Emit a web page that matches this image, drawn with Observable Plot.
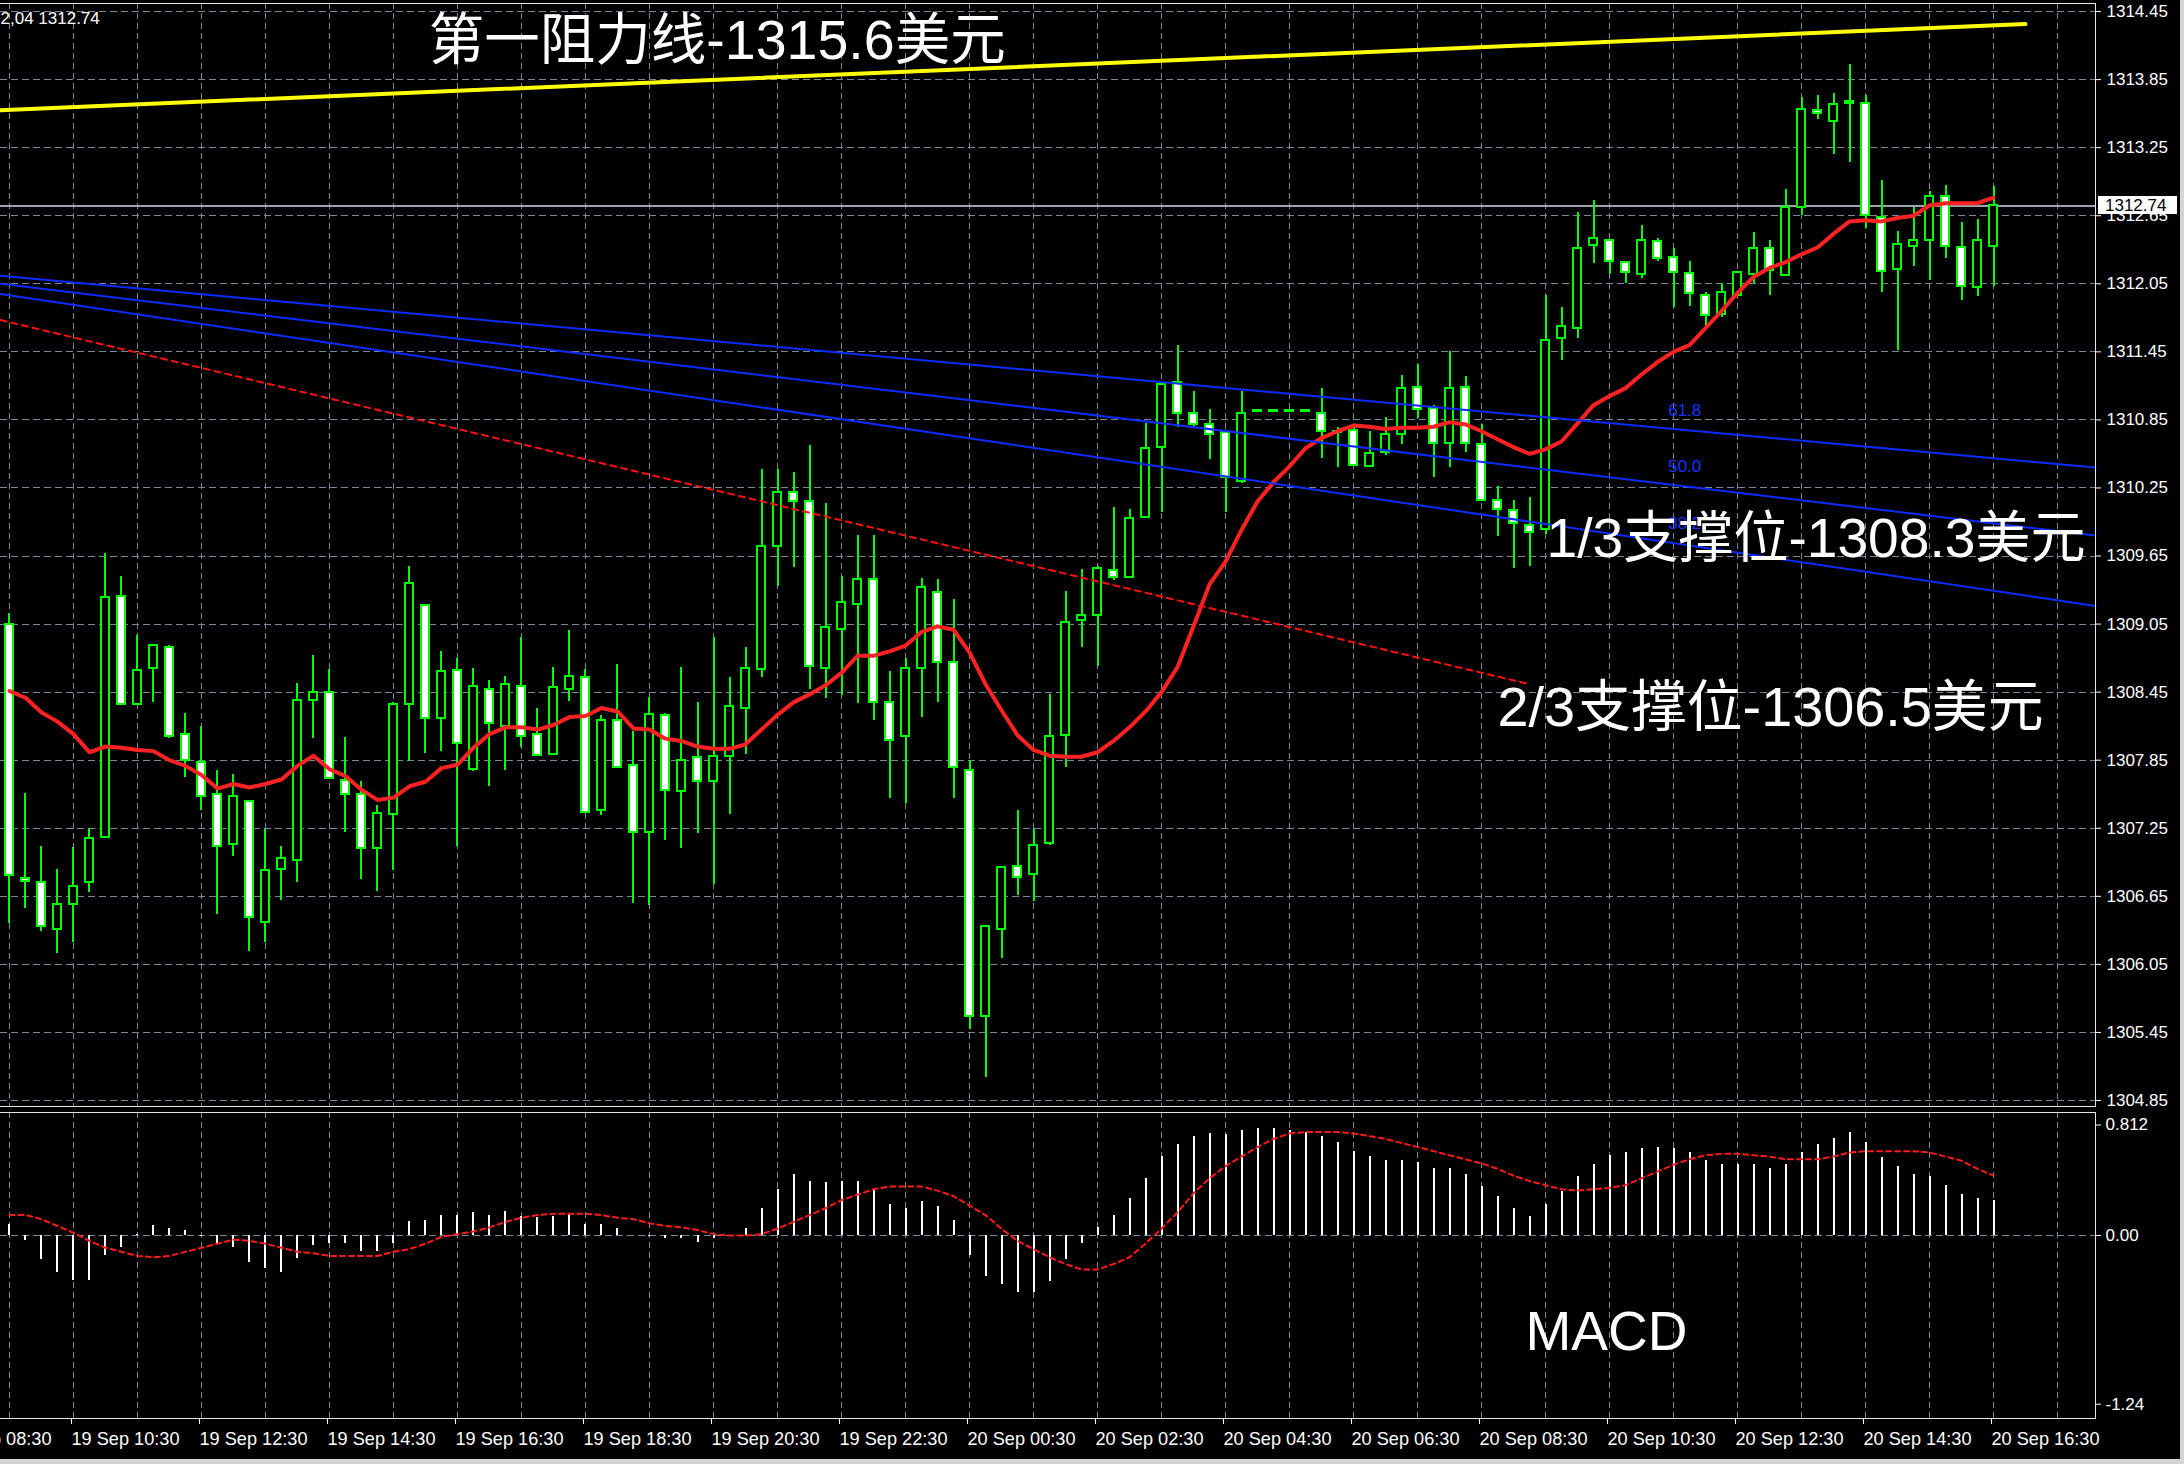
<!DOCTYPE html>
<html><head><meta charset="utf-8">
<script src="https://cdn.jsdelivr.net/npm/d3@7"></script>
<script src="https://cdn.jsdelivr.net/npm/@observablehq/plot@0.6"></script>
<style>
html,body{margin:0;padding:0;background:#d4d4d4;}
#wrap{width:2184px;height:1464px;background:#d4d4d4;position:relative;overflow:hidden}
#chart{position:absolute;left:0;top:0;width:2180px;height:1459px;background:#000;overflow:hidden}
#chart svg{display:block}
</style></head><body><div id="wrap"><div id="chart"></div></div>
<script>
// ---------- data ----------
const startTime = "2018-09-19T09:30:00Z";   // first M15 bar
const barMinutes = 15;
const xStart = "2018-09-19T09:21:34Z";
const xEnd = "2018-09-20T18:05:37Z";

const open = [
1309.05,1306.81,1306.77,1306.36,1306.58,1306.77,1307.17,1309.29,1308.34,1308.66,
1308.84,1308.08,1307.83,1307.55,1307.11,1307.49,1306.42,1306.89,1306.97,1308.38,
1308.45,1307.67,1307.55,1307.07,1307.37,1308.34,1309.21,1308.22,1308.64,1307.77,
1308.47,1308.15,1308.50,1308.08,1307.90,1308.47,1308.58,1307.41,1308.20,1307.80,
1307.21,1308.24,1307.57,1307.87,1307.66,1307.88,1308.31,1308.65,1309.73,1310.21,
1310.13,1308.66,1309.00,1309.22,1309.44,1308.36,1308.06,1308.66,1309.33,1308.71,
1307.76,1305.59,1306.36,1306.91,1306.84,1307.12,1308.07,1309.08,1309.13,1309.52,
1309.46,1309.99,1310.61,1311.18,1310.91,1310.81,1310.74,1310.31,1310.92,1310.92,
1310.92,1310.92,1310.91,1310.74,1310.76,1310.44,1310.56,1310.72,1311.14,1310.95,
1310.64,1311.14,1310.63,1310.14,1310.05,1309.92,1309.88,1311.57,1311.66,1312.39,
1312.43,1312.24,1312.13,1312.42,1312.28,1312.14,1311.95,1311.78,1311.95,1312.13,
1312.36,1312.12,1312.72,1313.58,1313.48,1313.66,1313.64,1312.63,1312.18,1312.38,
1312.43,1312.82,1312.37,1312.02,1312.38];
const high = [
1309.14,1307.56,1307.09,1306.89,1307.08,1307.25,1309.67,1309.47,1308.95,1308.86,
1308.86,1308.26,1308.15,1307.76,1307.72,1307.49,1307.24,1307.09,1308.53,1308.77,
1308.65,1308.05,1307.66,1307.45,1308.36,1309.56,1309.21,1308.81,1308.75,1308.66,
1308.55,1308.59,1308.93,1308.31,1308.67,1308.99,1308.65,1308.24,1308.69,1308.10,
1308.40,1308.26,1308.67,1308.36,1308.93,1308.58,1308.84,1310.41,1310.41,1310.39,
1310.62,1310.11,1309.47,1309.83,1309.83,1308.63,1308.75,1309.45,1309.44,1309.27,
1307.85,1306.38,1306.90,1307.41,1307.24,1308.43,1309.34,1309.53,1309.56,1310.08,
1310.06,1310.82,1311.16,1311.51,1311.10,1310.94,1310.76,1311.10,1310.93,1310.93,
1310.93,1310.93,1311.13,1310.78,1310.81,1310.75,1310.87,1311.24,1311.34,1310.98,
1311.45,1311.23,1310.81,1310.26,1310.14,1310.17,1311.95,1311.84,1312.68,1312.78,
1312.43,1312.24,1312.56,1312.45,1312.36,1312.25,1311.97,1312.05,1312.16,1312.50,
1312.43,1312.88,1313.69,1313.71,1313.73,1313.98,1313.71,1312.96,1312.51,1312.72,
1312.86,1312.92,1312.59,1312.62,1312.91];
const low = [
1306.41,1306.54,1306.34,1306.15,1306.24,1306.68,1307.16,1308.33,1308.34,1308.36,
1308.04,1307.70,1307.41,1306.49,1307.00,1306.16,1306.24,1306.61,1306.77,1308.04,
1307.68,1307.21,1306.80,1306.69,1306.88,1307.84,1307.91,1307.93,1307.09,1307.75,
1307.62,1307.76,1307.96,1307.89,1307.90,1308.37,1307.39,1307.36,1307.79,1306.59,
1306.57,1307.14,1307.07,1307.20,1306.75,1307.37,1307.90,1308.58,1309.38,1309.55,
1308.47,1308.39,1308.42,1308.35,1308.20,1307.51,1307.47,1308.23,1308.36,1307.51,
1305.48,1305.05,1306.10,1306.66,1306.60,1307.10,1307.79,1308.84,1308.68,1309.43,
1309.45,1309.98,1310.03,1310.78,1310.77,1310.50,1310.03,1310.29,1310.92,1310.92,
1310.92,1310.92,1310.51,1310.43,1310.44,1310.44,1310.54,1310.63,1310.86,1310.34,
1310.43,1310.56,1310.14,1309.82,1309.54,1309.56,1309.84,1311.37,1311.57,1312.23,
1312.13,1312.05,1312.10,1312.25,1311.84,1311.85,1311.67,1311.75,1311.94,1312.05,
1311.95,1312.12,1312.65,1313.50,1313.19,1313.12,1312.54,1311.97,1311.46,1312.20,
1312.08,1312.27,1311.90,1311.94,1312.03];
const close = [
1306.83,1306.78,1306.38,1306.58,1306.74,1307.16,1309.28,1308.34,1308.64,1308.86,
1308.06,1307.85,1307.53,1307.09,1307.53,1306.46,1306.88,1306.98,1308.38,1308.45,
1307.69,1307.55,1307.07,1307.38,1308.34,1309.41,1308.22,1308.63,1308.00,1308.50,
1308.17,1308.52,1308.06,1307.89,1308.49,1308.59,1307.39,1308.20,1307.79,1307.21,
1308.25,1307.58,1307.85,1307.66,1307.88,1308.32,1308.66,1309.73,1310.21,1310.13,
1308.68,1309.02,1309.24,1309.44,1308.36,1308.02,1308.66,1309.37,1308.71,1307.79,
1305.59,1306.38,1306.90,1306.82,1307.10,1308.06,1309.06,1309.13,1309.54,1309.46,
1309.98,1310.60,1311.16,1310.91,1310.81,1310.72,1310.34,1310.91,1310.93,1310.93,
1310.93,1310.93,1310.75,1310.75,1310.45,1310.55,1310.72,1311.13,1310.94,1310.64,
1311.13,1310.64,1310.14,1310.06,1309.94,1309.86,1311.55,1311.67,1312.36,1312.45,
1312.25,1312.15,1312.43,1312.27,1312.15,1311.96,1311.77,1311.97,1312.15,1312.36,
1312.17,1312.72,1313.59,1313.55,1313.63,1313.64,1312.65,1312.16,1312.40,1312.43,
1312.82,1312.38,1312.03,1312.43,1312.74];
const movingAvg = [
1308.46,1308.40,1308.27,1308.19,1308.08,1307.92,1307.97,1307.96,1307.94,1307.93,
1307.85,1307.80,1307.72,1307.60,1307.64,1307.61,1307.64,1307.68,1307.80,1307.89,
1307.77,1307.71,1307.59,1307.50,1307.52,1307.62,1307.66,1307.78,1307.81,1307.96,
1308.08,1308.14,1308.14,1308.12,1308.16,1308.23,1308.24,1308.31,1308.28,1308.13,
1308.12,1308.04,1308.02,1307.97,1307.95,1307.95,1307.99,1308.12,1308.25,1308.36,
1308.43,1308.51,1308.62,1308.77,1308.77,1308.81,1308.86,1308.98,1309.03,1309.00,
1308.80,1308.52,1308.29,1308.07,1307.94,1307.89,1307.88,1307.88,1307.92,1308.02,
1308.14,1308.28,1308.45,1308.67,1309.03,1309.40,1309.60,1309.88,1310.13,1310.30,
1310.44,1310.60,1310.69,1310.75,1310.80,1310.79,1310.77,1310.78,1310.78,1310.79,
1310.83,1310.81,1310.75,1310.68,1310.61,1310.55,1310.59,1310.66,1310.82,1310.98,
1311.06,1311.13,1311.25,1311.36,1311.45,1311.51,1311.66,1311.81,1311.97,1312.11,
1312.19,1312.24,1312.31,1312.37,1312.49,1312.60,1312.61,1312.60,1312.63,1312.65,
1312.74,1312.76,1312.76,1312.76,1312.81];
const macdHist = [
0.08,-0.04,-0.18,-0.27,-0.33,-0.33,-0.15,-0.09,0.01,0.07,
0.05,0.04,-0.01,-0.06,-0.09,-0.20,-0.24,-0.27,-0.17,-0.07,
-0.06,-0.06,-0.12,-0.12,-0.06,0.10,0.11,0.15,0.15,0.17,
0.15,0.18,0.14,0.13,0.14,0.16,0.08,0.08,0.05,0.00,
-0.01,-0.02,-0.02,-0.05,-0.02,0.00,0.05,0.20,0.34,0.45,
0.40,0.39,0.40,0.40,0.34,0.23,0.20,0.25,0.21,0.11,
-0.15,-0.30,-0.36,-0.42,-0.42,-0.34,-0.18,-0.06,0.06,0.15,
0.27,0.42,0.58,0.67,0.73,0.75,0.74,0.77,0.79,0.79,
0.77,0.76,0.73,0.68,0.62,0.58,0.55,0.55,0.54,0.49,
0.49,0.45,0.36,0.29,0.20,0.14,0.23,0.32,0.43,0.52,
0.59,0.61,0.64,0.65,0.64,0.61,0.55,0.52,0.52,0.52,
0.49,0.52,0.61,0.67,0.71,0.76,0.68,0.57,0.51,0.45,
0.43,0.37,0.30,0.27,0.26];
const macdSignal = [
0.15,0.15,0.12,0.07,0.02,-0.04,-0.09,-0.12,-0.15,-0.16,
-0.15,-0.12,-0.09,-0.06,-0.03,-0.04,-0.06,-0.09,-0.12,-0.13,
-0.15,-0.15,-0.15,-0.15,-0.12,-0.10,-0.06,-0.01,0.01,0.03,
0.06,0.10,0.13,0.15,0.16,0.16,0.16,0.15,0.13,0.12,
0.09,0.07,0.06,0.04,0.01,0.00,0.00,0.01,0.05,0.10,
0.15,0.20,0.26,0.30,0.34,0.36,0.36,0.36,0.33,0.29,
0.22,0.15,0.05,-0.04,-0.10,-0.16,-0.21,-0.25,-0.25,-0.21,
-0.16,-0.06,0.05,0.17,0.31,0.42,0.51,0.58,0.65,0.71,
0.75,0.76,0.76,0.76,0.75,0.73,0.71,0.68,0.65,0.62,
0.59,0.56,0.53,0.49,0.44,0.40,0.37,0.34,0.33,0.34,
0.35,0.37,0.42,0.47,0.52,0.56,0.59,0.60,0.60,0.59,
0.58,0.56,0.56,0.56,0.58,0.61,0.62,0.62,0.62,0.62,
0.61,0.58,0.55,0.49,0.44];

const priceTicks = [1314.45,1313.85,1313.25,1312.65,1312.05,1311.45,1310.85,1310.25,1309.65,1309.05,1308.45,1307.85,1307.25,1306.65,1306.05,1305.45,1304.85];
const macdTicks = [0.812, 0, -1.24];
const timeLabelTicks = ["2018-09-19T08:30Z","2018-09-19T10:30Z","2018-09-19T12:30Z","2018-09-19T14:30Z","2018-09-19T16:30Z","2018-09-19T18:30Z","2018-09-19T20:30Z","2018-09-19T22:30Z","2018-09-20T00:30Z","2018-09-20T02:30Z","2018-09-20T04:30Z","2018-09-20T06:30Z","2018-09-20T08:30Z","2018-09-20T10:30Z","2018-09-20T12:30Z","2018-09-20T14:30Z","2018-09-20T16:30Z"];
const currentPrice = 1312.74;
const topLeftLabel = "2,04 1312.74";

// resistance (yellow) trend line
const resistanceTimes = ["2018-09-19T09:21:34Z", "2018-09-20T17:00:00Z"];
const resistancePrices = [1313.58, 1314.34];
// Fibonacci fan (blue)
const fanLevels = ["61.8", "50.0", "38.2"];
const fanTimes = ["2018-09-19T09:21:34Z", "2018-09-20T18:05:37Z"];
const fanStartPrices = [1312.12, 1312.05, 1311.96];
const fanEndPrices = [1310.43, 1309.83, 1309.21];
const fanLabelTime = "2018-09-20T11:25:00Z";
const fanLabelPrices = [1310.93, 1310.44, 1309.94];
// red dotted trend line
const supportTimes = ["2018-09-19T09:21:34Z", "2018-09-20T09:15:00Z"];
const supportPrices = [1311.73, 1308.52];

// text annotations
const noteTexts = ["第一阻力线-1315.6美元", "1/3支撑位-1308.3美元", "2/3支撑位-1306.5美元"];
const noteTimes = ["2018-09-19T16:03:00Z", "2018-09-20T09:31:00Z", "2018-09-20T08:45:00Z"];
const notePrices = [1314.19, 1309.80, 1308.31];
const noteWidths = [577, 539, 546];
const macdNote = {text: "MACD", time: "2018-09-20T09:11:15Z", value: -0.713, width: 162};

// ---------- build tables ----------
const t0 = new Date(startTime);
const candles = open.map((o, i) => ({
  time: new Date(+t0 + i * barMinutes * 60000),
  open: o, high: high[i], low: low[i], close: close[i],
  ma: movingAvg[i], hist: macdHist[i], signal: macdSignal[i]
}));
const halfBar = barMinutes * 60000 / 2;
const xDomain = [new Date(xStart), new Date(xEnd)];
const hourGrid = d3.utcHour.range(new Date("2018-09-19T09:00Z"), new Date("2018-09-20T18:00Z"))
  .map(d => new Date(+d + 30 * 60000));
const resistance = resistanceTimes.map((t, i) => ({time: new Date(t), price: resistancePrices[i]}));
const fan = fanLevels.flatMap((lv, k) => [
  {level: lv, time: new Date(fanTimes[0]), price: fanStartPrices[k]},
  {level: lv, time: new Date(fanTimes[1]), price: fanEndPrices[k]}
]);
const fanLabels = fanLevels.map((lv, k) => ({level: lv, time: new Date(fanLabelTime), price: fanLabelPrices[k]}));
const supportLine = supportTimes.map((t, i) => ({time: new Date(t), price: supportPrices[i]}));
const notes = noteTexts.map((s, i) => ({text: s, time: new Date(noteTimes[i]), price: notePrices[i], width: noteWidths[i]}));
const labelDates = timeLabelTicks.map(s => new Date(s));

const GRID = "#778899";
const LIME = "#00ff00";
const FONT = "Liberation Sans, Arial, 'Noto Sans CJK SC', sans-serif";
const W = 2180, MR = 85;

// ---------- main pane ----------
const mainPlot = Plot.plot({
  width: W, height: 1110,
  marginTop: 3, marginRight: MR, marginBottom: 4, marginLeft: 0,
  style: {background: "#000", color: "#fff", fontFamily: FONT, fontSize: "17px"},
  x: {type: "utc", domain: xDomain, axis: null},
  y: {domain: [1304.797, 1314.521]},
  marks: [
    Plot.gridY(priceTicks, {stroke: GRID, strokeOpacity: 1, strokeDasharray: "7,4", shapeRendering: "crispEdges"}),
    Plot.gridX(hourGrid, {stroke: GRID, strokeOpacity: 1, strokeDasharray: "6,4", shapeRendering: "crispEdges"}),
    Plot.ruleY([currentPrice], {stroke: "#9aa5b1", strokeWidth: 2, shapeRendering: "crispEdges"}),
    Plot.ruleX(candles, {x: "time", y1: "low", y2: "high", stroke: LIME, strokeWidth: 2, shapeRendering: "crispEdges"}),
    Plot.rect(candles, {
      x1: d => new Date(+d.time - halfBar), x2: d => new Date(+d.time + halfBar),
      y1: "open", y2: "close", insetLeft: 4, insetRight: 4,
      fill: d => d.close > d.open ? "#000" : "#fff", stroke: LIME, strokeWidth: 2, shapeRendering: "crispEdges"
    }),
    Plot.line(candles, {x: "time", y: "ma", stroke: "#ff2222", strokeWidth: 4}),
    Plot.line(fan, {x: "time", y: "price", z: "level", stroke: "#0a2cff", strokeWidth: 2}),
    Plot.text(fanLabels, {x: "time", y: "price", text: "level", fill: "#1434ff", fontSize: 17, textAnchor: "start"}),
    Plot.line(supportLine, {x: "time", y: "price", stroke: "#ff1010", strokeWidth: 2, strokeDasharray: "6,5"}),
    Plot.line(resistance, {x: "time", y: "price", stroke: "#ffff00", strokeWidth: 4}),
    Plot.text(notes, {x: "time", y: "price", text: "text", fill: "#fff", fontSize: 56, textAnchor: "start", fontFamily: FONT}),
    Plot.text([topLeftLabel], {frameAnchor: "top-left", text: d => d, fill: "#fff", fontSize: 17, textAnchor: "start", lineAnchor: "top", dy: 8}),
    Plot.axisY(priceTicks, {anchor: "right", tickSize: 5, tickPadding: 6, tickFormat: d => d.toFixed(2), fontSize: 17}),
    Plot.frame({anchor: "top", stroke: "#e6e6e6"}),
    Plot.frame({anchor: "right", stroke: "#e6e6e6"}),
    Plot.frame({anchor: "bottom", stroke: "#e6e6e6"})
  ]
});

// ---------- MACD pane ----------
const macdPlot = Plot.plot({
  width: W, height: 349,
  marginTop: 2, marginRight: MR, marginBottom: 41, marginLeft: 0,
  style: {background: "#000", color: "#fff", fontFamily: FONT, fontSize: "17px"},
  x: {type: "utc", domain: xDomain},
  y: {domain: [-1.345, 0.904]},
  marks: [
    Plot.gridX(hourGrid, {stroke: GRID, strokeOpacity: 1, strokeDasharray: "6,4", shapeRendering: "crispEdges"}),
    Plot.gridY([0], {stroke: GRID, strokeOpacity: 1, strokeDasharray: "7,4", shapeRendering: "crispEdges"}),
    Plot.ruleX(candles, {x: "time", y1: 0, y2: "hist", stroke: "#fff", strokeWidth: 2, shapeRendering: "crispEdges"}),
    Plot.line(candles, {x: "time", y: "signal", stroke: "#ff1a1a", strokeWidth: 2, strokeDasharray: "5,4"}),
    Plot.text([macdNote], {x: d => new Date(d.time), y: "value", text: "text", fill: "#fff", fontSize: 56, textAnchor: "start"}),
    Plot.axisY(macdTicks, {anchor: "right", tickSize: 5, tickPadding: 5, tickFormat: d => d === 0 ? "0.00" : String(d), fontSize: 17}),
    Plot.axisX(labelDates, {anchor: "bottom", tickSize: 6, tickPadding: 7, tickFormat: d3.utcFormat("%d %b %H:%M"), textAnchor: "start", dx: -2, fontSize: 19}),
    Plot.frame({anchor: "top", stroke: "#e6e6e6"}),
    Plot.frame({anchor: "right", stroke: "#e6e6e6"}),
    Plot.frame({anchor: "bottom", stroke: "#e6e6e6"})
  ]
});

const chart = document.getElementById("chart");
chart.appendChild(mainPlot);
chart.appendChild(macdPlot);

// fit annotation widths
const widthByText = new Map(notes.map(n => [n.text, n.width]));
widthByText.set(macdNote.text, macdNote.width);
d3.selectAll("#chart svg text").each(function () {
  const w = widthByText.get(this.textContent);
  if (w) { this.setAttribute("textLength", w); this.setAttribute("lengthAdjust", "spacingAndGlyphs"); }
});
d3.select(macdPlot).selectAll('g[aria-label="x-axis tick label"] text')
  .attr("textLength", 108).attr("lengthAdjust", "spacingAndGlyphs");

// current price tag on the right axis
const yp = mainPlot.scale("y").apply(currentPrice);
const xr = W - MR;
const tag = d3.select(mainPlot).append("g");
tag.append("rect").attr("x", xr + 3).attr("y", yp - 9).attr("width", 79).attr("height", 18).attr("fill", "#fff");
tag.append("text").attr("x", xr + 10).attr("y", yp).attr("dy", "0.35em").attr("fill", "#000")
  .attr("text-anchor", "start").attr("font-size", 17).attr("font-family", FONT).text(currentPrice.toFixed(2));
</script></body></html>
